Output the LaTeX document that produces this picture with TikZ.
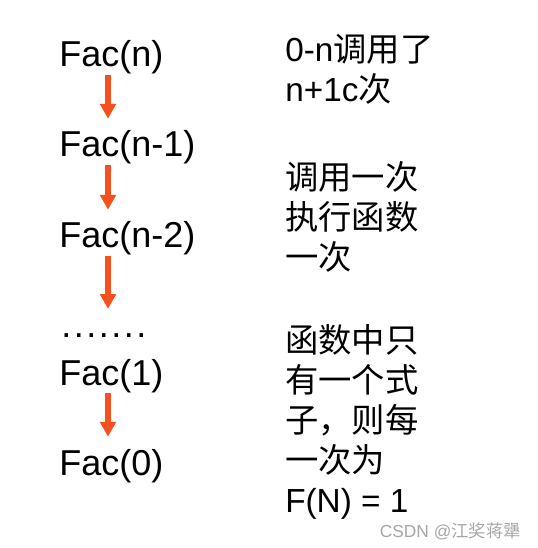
\documentclass[tikz,border=0pt]{standalone}
\usepackage{fontspec}
\setmainfont{Liberation Sans}
\newfontfamily\cjk{Noto Sans CJK SC}
\usetikzlibrary{arrows.meta}
\definecolor{arrowred}{RGB}{244,81,30}

\begin{document}
\begin{tikzpicture}[
    x=0.75pt, y=-0.75pt,
    call/.style={anchor=base west, inner sep=0pt, font=\fontsize{27}{32}\selectfont},
    note/.style={anchor=base west, inner sep=0pt, font=\fontsize{25}{30}\selectfont, align=left},
    arrow/.style={-{Triangle[width=11.5pt,length=11pt]}, line width=4.5pt, arrowred},
    watermark/.style={anchor=base east, inner sep=0pt, font=\fontsize{13}{15}\selectfont, text=black!35}
]
\useasboundingbox (0,0) rectangle (537,548);

% Calls
\node[call] (fn)   at (59,67)  {Fac(n)};
\node[call] (fn1)  at (59,157) {Fac(n-1)};
\node[call] (fn2)  at (59,248) {Fac(n-2)};
\node[call] (dots) at (61,337) {\addfontfeature{LetterSpace=7}.......};
\node[call] (f1)   at (59,385) {Fac(1)};
\node[call] (f0)   at (59,475) {Fac(0)};

% Arrow column
\coordinate (ax) at (108,0);

\draw[arrow] (fn.south -| ax)  -- ([yshift=9pt]fn1.north -| ax);
\draw[arrow] (fn1.south -| ax) -- ([yshift=9pt]fn2.north -| ax);
\draw[arrow] (fn2.south -| ax) -- ([yshift=18pt]dots.north -| ax);
\draw[arrow] (f1.south -| ax)  -- ([yshift=9pt]f0.north -| ax);

% Notes (anchored on the baseline of the last line)
\node[note] (total) at (285,102) {0-n{\cjk 调用了}\\n+1c{\cjk 次}};
\node[note] (once)  at (285,270) {\cjk 调用一次\\\cjk 执行函数\\\cjk 一次};
\node[note] (value) at (285,512) {\cjk 函数中只\\\cjk 有一个式\\\cjk 子，则每\\\cjk 一次为\\F(N) = 1};

\node[watermark] (wm) at (521,537) {CSDN @{\cjk 江奖蒋犟}};

\end{tikzpicture}
\end{document}
